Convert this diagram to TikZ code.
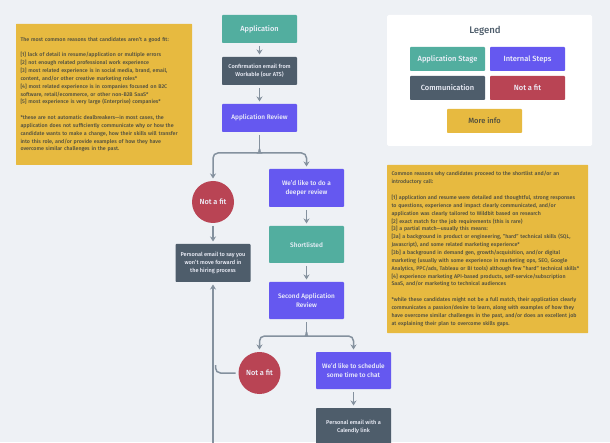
\documentclass[tikz,border=0pt]{standalone}
\usepackage{fontspec}
\setmainfont{Fira Sans}[UprightFont=* Medium]
\usetikzlibrary{positioning}
\usetikzlibrary{arrows.meta}

\definecolor{pagebg}{HTML}{EEF1F5}
\definecolor{stagecol}{HTML}{52AE9F}
\definecolor{commcol}{HTML}{4E5D6B}
\definecolor{internalcol}{HTML}{6558F0}
\definecolor{nofitcol}{HTML}{B94454}
\definecolor{infocol}{HTML}{E7BA40}
\definecolor{linecol}{HTML}{84919E}
\definecolor{notetext}{HTML}{4F4E3F}
\definecolor{boxtext}{HTML}{EEF0FA}

\tikzset{
    flowbox/.style={shape=rectangle,minimum width=75pt,minimum height=28pt,inner sep=1pt,outer sep=0pt,
        align=center,text=boxtext,rounded corners=0.8pt,font=\fontsize{6.5}{9.4}\selectfont},
    stagebox/.style={flowbox,fill=stagecol},
    commbox/.style={flowbox,fill=commcol,font=\fontsize{5.6}{8}\selectfont},
    internalbox/.style={flowbox,fill=internalcol},
    nofit/.style={shape=circle,fill=nofitcol,text=boxtext,minimum size=42pt,inner sep=0pt,outer sep=0pt,
        font=\fontsize{7.4}{9}\selectfont},
    legendbox/.style={flowbox,minimum height=24pt,font=\fontsize{7.5}{9.4}\selectfont},
    notebox/.style={shape=rectangle,fill=infocol,text=notetext,align=left,inner xsep=4.5pt,inner ysep=0pt,
        outer sep=0pt,rounded corners=0.5pt,font=\fontsize{5.3}{7.85}\selectfont},
    flow/.style={draw=linecol,line width=1.5pt,rounded corners=5pt,-{Stealth[length=5pt,width=6pt]}},
    stem/.style={draw=linecol,line width=1.5pt,rounded corners=5pt}
}

\begin{document}
\begin{tikzpicture}[x=1pt,y=1pt]
    \useasboundingbox (0,0) rectangle (610,442);
    \clip (0,0) rectangle (610,442);
    \fill[pagebg] (0,0) rectangle (610,442);

    %Notes
    \node(leftnote)[notebox,anchor=north west,minimum height=141pt,text width=167pt] at (16,418) {%
        The most common reasons that candidates aren't a good fit:\\[7.85pt]
        {[}1] lack of detail in resume/application or multiple errors\\
        {[}2] not enough related professional work experience\\
        {[}3] most related experience is in social media, brand, email,\\
        content, and/or other creative marketing roles*\\
        {[}4] most related experience is in companies focused on B2C\\
        software, retail/ecommerce, or other non-B2B SaaS*\\
        {[}5] most experience is very large (Enterprise) companies*\\[7.85pt]
        *these are not automatic dealbreakers---in most cases, the\\
        application does not sufficiently communicate why or how the\\
        candidate wants to make a change, how their skills will transfer\\
        into this role, and/or provide examples of how they have\\
        overcome similar challenges in the past.};
    \node(rightnote)[notebox,anchor=north west,minimum height=168pt,text width=192pt] at (387,277) {%
        Common reasons why candidates proceed to the shortlist and/or an\\
        introductory call:\\[7.85pt]
        {[}1] application and resume were detailed and thoughtful, strong responses\\
        to questions, experience and impact clearly communicated, and/or\\
        application was clearly tailored to Wildbit based on research\\
        {[}2] exact match for the job requirements (this is rare)\\
        {[}3] a partial match---usually this means:\\
        {[}3a] a background in product or engineering, "hard" technical skills (SQL,\\
        Javascript), and some related marketing experience*\\
        {[}3b] a background in demand gen, growth/acquisition, and/or digital\\
        marketing (usually with some experience in marketing ops, SEO, Google\\
        Analytics, PPC/ads, Tableau or BI tools) although few "hard" technical skills*\\
        {[}4] experience marketing API-based products, self-service/subscription\\
        SaaS, and/or marketing to technical audiences\\[7.85pt]
        *while these candidates might not be a full match, their application clearly\\
        communicates a passion/desire to learn, along with examples of how they\\
        have overcome similar challenges in the past, and/or does an excellent job\\
        at explaining their plan to overcome skills gaps.};

    %Legend
    \node(legend)[shape=rectangle,fill=white,rounded corners=1.5pt,minimum width=205pt,minimum height=131pt,
        outer sep=0pt,anchor=north west] at (387,427) {};
    \node(legendtitle)[text=commcol,font=\fontsize{9.6}{11}\selectfont] at (485,411) {Legend};
    \node(legendstage)[stagebox,legendbox] at (447.5,383) {Application Stage};
    \node(legendinternal)[internalbox,legendbox,right=5pt of legendstage] {Internal Steps};
    \node(legendcomm)[commbox,legendbox,below=5pt of legendstage] {Communication};
    \node(legendnofit)[legendbox,fill=nofitcol,below=5pt of legendinternal] {Not a fit};
    \node(legendinfo)[legendbox,fill=infocol,text=notetext,below=9pt of legendcomm,xshift=37pt] {More info};

    %Flow
    \node(application)[stagebox,font=\fontsize{7.4}{9}\selectfont] at (259.5,413) {Application};
    \node(confirm)[commbox,below=14pt of application] {Confirmation email from\\Workable (our ATS)};
    \node(appreview)[internalbox,below=19pt of confirm] {Application Review};
    \node(notfitone)[nofit,below=49pt of appreview,xshift=-46.5pt] {Not a fit};
    \node(rejectemail)[commbox,minimum height=38pt,below=21pt of notfitone] {Personal email to say you\\won't move forward in\\the hiring process};
    \node(deeper)[internalbox,minimum height=38pt,below=37pt of appreview,xshift=47pt] {We'd like to do a\\deeper review};
    \node(shortlisted)[stagebox,minimum height=37pt,below=19pt of deeper] {Shortlisted};
    \node(secondreview)[internalbox,minimum height=37pt,below=19pt of shortlisted] {Second Application\\Review};
    \node(notfittwo)[nofit,below=33pt of secondreview,xshift=-47pt] {Not a fit};
    \node(schedule)[internalbox,minimum height=37pt,below=33pt of secondreview,xshift=47pt] {We'd like to schedule\\some time to chat};
    \node(calendly)[commbox,minimum height=38pt,below=19pt of schedule] {Personal email with a\\Calendly link};
    \coordinate(trunk) at (213,-10);
    \coordinate(branchone) at ([yshift=-17pt]appreview.south);
    \coordinate(branchtwo) at ([yshift=-13pt]secondreview.south);

    %Lines
    \begin{scope}[shorten >=2.5pt]
        \draw[flow,shorten <=3pt] (application) -- (confirm);
        \draw[flow,shorten <=3pt] (confirm) -- (appreview);
        \draw[flow,shorten <=3pt] (notfitone) -- (rejectemail);
        \draw[flow,shorten <=3pt] (deeper) -- (shortlisted);
        \draw[flow,shorten <=3pt] (shortlisted) -- (secondreview);
        \draw[flow,shorten <=3pt] (schedule) -- (calendly);
        \draw[flow] (trunk) -- (rejectemail);
        \draw[flow] (branchone) to[out=-90,in=0] ++(-4,-4) -| (notfitone);
        \draw[flow] (branchone) to[out=-90,in=180] ++(4,-4) -| (deeper);
        \draw[flow] (branchtwo) to[out=-90,in=0] ++(-4,-4) -| (notfittwo);
        \draw[flow] (branchtwo) to[out=-90,in=180] ++(4,-4) -| (schedule);
    \end{scope}
    \draw[stem,shorten <=3pt] (appreview) -- (branchone);
    \draw[stem,shorten <=3pt] (secondreview) -- (branchtwo);
    \draw[stem,shorten <=3pt] (notfittwo.west) -| ++(-23,8);
\end{tikzpicture}
\end{document}
